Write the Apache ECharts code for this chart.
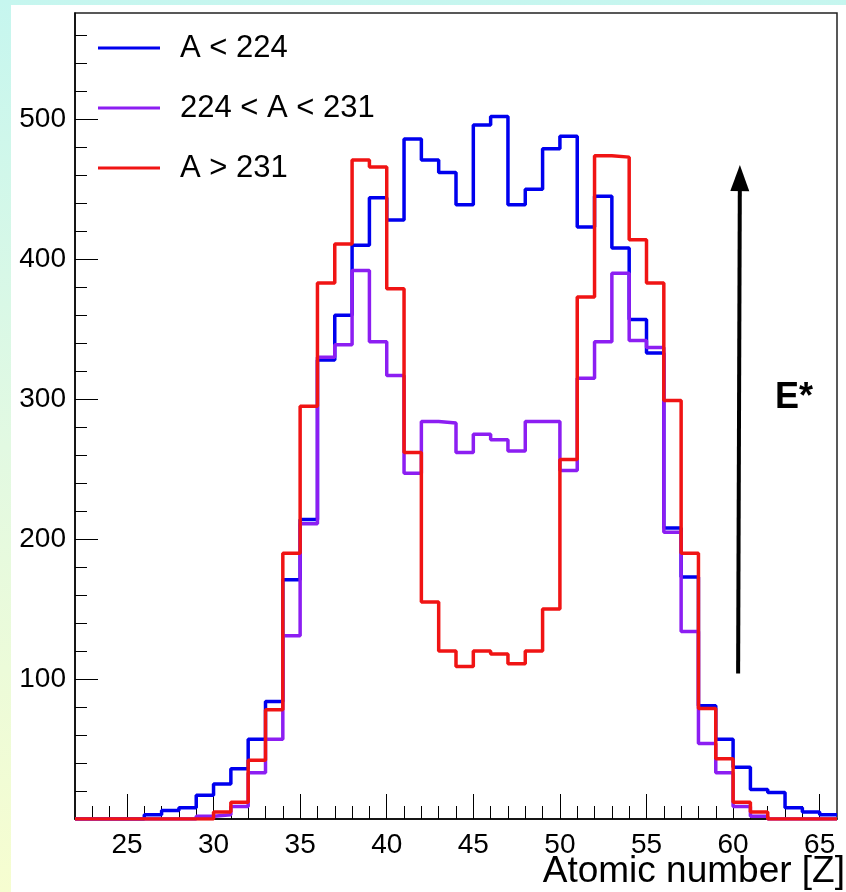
<!DOCTYPE html>
<html>
<head>
<meta charset="utf-8">
<script src="https://cdn.jsdelivr.net/npm/echarts@6/dist/echarts.min.js"></script>
<style>
  html, body {
    margin: 0; padding: 0; width: 846px; height: 892px; overflow: hidden;
    background: linear-gradient(to bottom, #c6f6ef 0%, #e2f9e2 50%, #f6fdd0 100%);
  }
  #pad { position: absolute; left: 11px; top: 5px; right: 0; bottom: 0; background: #fff; }
  #chart { position: absolute; left: 0; top: 0; width: 846px; height: 892px; }
</style>
</head>
<body>
<div id="pad"></div>
<div id="chart"></div>
<script>
// Fragment charge distributions, one bin per Z (bin [Z, Z+1))
const binLowEdges = [22, 23, 24, 25, 26, 27, 28, 29, 30, 31, 32, 33, 34, 35, 36, 37, 38, 39, 40, 41, 42, 43,
                     44, 45, 46, 47, 48, 49, 50, 51, 52, 53, 54, 55, 56, 57, 58, 59, 60, 61, 62, 63, 64, 65];

// A < 224
const countsLight = [0, 0, 0, 0, 3, 6, 8, 17, 25, 36, 57, 84, 171, 214, 328, 360, 410, 444, 428, 486, 471, 462,
                     439, 496, 502, 439, 450, 479, 488, 423, 445, 408, 357, 333, 208, 173, 81, 57, 37, 21, 19, 8, 5, 3];
// 224 < A < 231
const countsMid   = [0, 0, 0, 0, 0, 0, 0, 2, 3, 9, 33, 57, 131, 211, 330, 339, 392, 341, 317, 247, 284, 283,
                     262, 275, 271, 263, 284, 284, 249, 315, 341, 390, 342, 337, 205, 134, 54, 33, 9, 2, 0, 0, 0, 0];
// A > 231
const countsHeavy = [0, 0, 0, 0, 0, 0, 0, 0, 5, 12, 42, 78, 190, 295, 383, 411, 471, 466, 379, 262, 155, 120,
                     109, 120, 118, 111, 120, 150, 257, 373, 474, 473, 414, 383, 299, 190, 79, 43, 12, 5, 0, 0, 0, 0];

const seriesNames  = ['A < 224', '224 < A < 231', 'A > 231'];
const seriesColors = ['#0000ee', '#8c1ef2', '#f01414'];

const xTickLabels = [25, 30, 35, 40, 45, 50, 55, 60, 65];
const yTickLabels = [100, 200, 300, 400, 500];

const xRange = [22, 66];
const yRange = [0, 576];

// E* arrow, in data coordinates
const arrowFrom = [60.29, 104];
const arrowTo   = [60.39, 458];

const FONT = '"Liberation Sans", Arial, Helvetica, sans-serif';

// histogram outline: horizontal at each bin's count, closing at the last upper edge
function stepPoints(counts) {
  const pts = binLowEdges.map((z, i) => [z, counts[i]]);
  pts.push([binLowEdges[binLowEdges.length - 1] + 1, counts[counts.length - 1]]);
  return pts;
}

const xMinorTicks = binLowEdges.filter(z => z > xRange[0] && z % 5 !== 0);
const yMinorTicks = [];
for (let v = 20; v < yRange[1]; v += 20) if (v % 100 !== 0) yMinorTicks.push(v);

const chart = echarts.init(document.getElementById('chart'), null, { renderer: 'canvas' });

const allCounts = [countsLight, countsMid, countsHeavy];

const option = {
  animation: false,
  backgroundColor: 'transparent',
  grid: {
    left: 75, right: 9, top: 13, bottom: 73,
    show: true, borderColor: '#222', borderWidth: 1.5, backgroundColor: 'transparent'
  },
  legend: {
    orient: 'vertical',
    left: 98, top: 31, padding: 0,
    icon: 'rect',
    itemWidth: 62, itemHeight: 3, itemGap: 26,
    textStyle: { fontSize: 31, color: '#000', fontFamily: FONT, lineHeight: 34, padding: [0, 0, 0, 15] },
    data: seriesNames
  },
  xAxis: [
    {
      type: 'value', min: xRange[0], max: xRange[1],
      axisLine: { show: true, lineStyle: { color: '#000', width: 1.5 } },
      axisTick: { show: true, inside: true, length: 25, customValues: xTickLabels, lineStyle: { color: '#000', width: 1 } },
      axisLabel: { customValues: xTickLabels, fontSize: 28, color: '#000', fontFamily: FONT, margin: 12 },
      splitLine: { show: false }
    },
    {
      type: 'value', min: xRange[0], max: xRange[1], position: 'bottom',
      axisLine: { show: false },
      axisTick: { show: true, inside: true, length: 13, customValues: xMinorTicks, lineStyle: { color: '#000', width: 1 } },
      axisLabel: { show: false },
      splitLine: { show: false }
    }
  ],
  yAxis: [
    {
      type: 'value', min: yRange[0], max: yRange[1],
      axisLine: { show: true, lineStyle: { color: '#000', width: 1.5 } },
      axisTick: { show: true, inside: true, length: 23, customValues: yTickLabels, lineStyle: { color: '#000', width: 1 } },
      axisLabel: { customValues: yTickLabels, fontSize: 28, color: '#000', fontFamily: FONT, margin: 9 },
      splitLine: { show: false }
    },
    {
      type: 'value', min: yRange[0], max: yRange[1], position: 'left',
      axisLine: { show: false },
      axisTick: { show: true, inside: true, length: 12, customValues: yMinorTicks, lineStyle: { color: '#000', width: 1 } },
      axisLabel: { show: false },
      splitLine: { show: false }
    }
  ],
  graphic: [
    {
      type: 'text', right: 1, top: 853,
      style: { text: 'Atomic number [Z]', font: '37px ' + FONT, fill: '#000' }
    },
    {
      type: 'text', left: 775, top: 380,
      style: { text: 'E*', font: 'bold 36px ' + FONT, fill: '#000' }
    }
  ],
  series: allCounts.map((counts, i) => ({
    name: seriesNames[i],
    type: 'line',
    step: 'end',
    xAxisIndex: 0, yAxisIndex: 0,
    data: stepPoints(counts),
    symbol: 'none',
    lineStyle: { width: 3.5, color: seriesColors[i] },
    itemStyle: { color: seriesColors[i] },
    z: 2 + i,
    silent: true,
    markLine: i === 0 ? {
      silent: true,
      symbol: ['none', 'triangle'],
      symbolSize: [19, 26],
      label: { show: false },
      lineStyle: { color: '#000', width: 4, type: 'solid' },
      emphasis: { disabled: true },
      data: [[{ coord: arrowFrom }, { coord: arrowTo }]]
    } : undefined
  }))
};

chart.setOption(option);
</script>
</body>
</html>
